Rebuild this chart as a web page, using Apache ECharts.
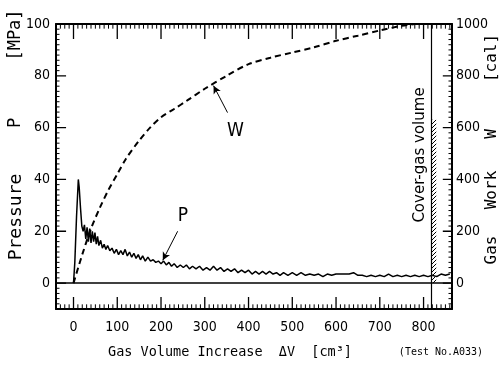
<!DOCTYPE html>
<html>
<head>
<meta charset="utf-8">
<script src="https://cdn.jsdelivr.net/npm/echarts@6/dist/echarts.min.js"></script>
<style>
  html, body { margin: 0; padding: 0; background: #fff; }
  #chart { width: 503px; height: 371px; }
</style>
</head>
<body>
<div id="chart"></div>
<script>
// gas volume increase [cm3] vs pressure P [MPa]
var pressure = [
  [0, 0], [3, 8], [7, 26], [11, 40], [13, 37], [16, 29], [19, 22], [22, 20],
  [25, 22.5], [28, 17], [31, 21.5], [34, 16], [37, 21], [40, 15.5], [43, 20],
  [46, 16], [49, 19.5], [52, 15], [55, 18], [58, 14.5], [62, 16.5], [66, 13.5],
  [70, 15], [74, 13], [78, 14.5], [83, 12.5], [88, 13.5], [93, 11.5], [98, 13],
  [103, 11], [108, 12.5], [113, 11], [118, 13], [123, 10.5], [128, 12], [133, 10],
  [138, 11.5], [143, 9.5], [148, 11], [153, 9], [158, 10.5], [164, 8.5], [170, 10],
  [176, 8.5], [182, 9], [188, 8], [194, 8.5], [200, 7.5], [206, 8.5], [212, 7],
  [218, 8], [224, 6.5], [230, 7.5], [237, 6], [244, 7], [251, 6], [258, 7],
  [265, 5.5], [272, 6.5], [280, 5.5], [288, 6.5], [296, 5], [304, 6], [312, 5],
  [320, 6.5], [328, 5], [336, 6], [344, 4.5], [352, 5.5], [360, 4.5], [368, 5.5],
  [376, 4], [384, 5], [392, 4], [400, 5], [408, 3.5], [416, 4.5], [424, 3.5],
  [432, 4.5], [440, 3.5], [448, 4.5], [456, 3.5], [464, 4], [472, 3], [480, 4],
  [490, 3], [500, 4], [510, 3], [520, 4], [530, 3], [540, 3.5], [550, 3],
  [560, 3.5], [570, 2.5], [580, 3.5], [590, 3], [600, 3.5], [610, 3.5], [620, 3.5],
  [630, 3.5], [640, 4], [650, 3], [660, 3], [670, 2.5], [680, 3], [690, 2.5],
  [700, 3], [710, 2.5], [720, 3.5], [730, 2.5], [740, 3], [750, 2.5], [760, 3],
  [770, 2.5], [780, 3], [790, 2.5], [800, 3], [810, 2.5], [820, 3], [830, 2.5],
  [840, 3.5], [850, 3], [860, 3.5]
];

// gas work W [cal]
var gasWork = [
  [0, 0], [20, 110], [40, 210], [60, 290], [80, 360], [100, 420], [120, 480],
  [150, 550], [175, 600], [200, 640], [230, 672], [260, 705], [300, 750],
  [350, 800], [400, 845], [450, 870], [500, 890], [550, 910], [600, 935],
  [650, 955], [700, 975], [750, 993], [780, 1000]
];

var coverGasVolume = 818;
var coverGasHatchTop = 63;

var xRange = [-40, 865];
var pRange = [-10, 100];
var wRange = [-100, 1000];

// frame ticks (right-hand W ticks coincide with these on the P scale)
var xMajorTicks = [0, 100, 200, 300, 400, 500, 600, 700, 800];
var pMajorTicks = [0, 20, 40, 60, 80, 100];
var xMinorStep = 10;
var pMinorStep = 2;

var tickFont = '"DejaVu Sans Condensed", "DejaVu Sans", sans-serif';
var monoFont = '"DejaVu Sans Mono", monospace';

// hatch pattern for the cover-gas strip
var hatch = document.createElement('canvas');
hatch.width = 4;
hatch.height = 4;
var hctx = hatch.getContext('2d');
hctx.strokeStyle = '#000';
hctx.lineWidth = 1;
hctx.beginPath();
hctx.moveTo(0, 4);
hctx.lineTo(4, 0);
hctx.stroke();

function plain(v) { return String(v); }

// inward frame ticks as broken polylines in axis units (null breaks the line)
function frameTicks(wantMajor) {
  var out = [];
  var v, major;
  function tick(a, b) { out.push(a, b, [b[0], null]); }
  for (v = Math.ceil(xRange[0] / xMinorStep) * xMinorStep + xMinorStep; v < xRange[1]; v += xMinorStep) {
    major = xMajorTicks.indexOf(v) >= 0;
    if (major !== wantMajor) continue;
    tick([v, pRange[0]], [v, pRange[0] + (major ? 4.6 : 1.8)]);
    tick([v, pRange[1]], [v, pRange[1] - (major ? 5.8 : 1.8)]);
  }
  for (v = Math.ceil(pRange[0] / pMinorStep) * pMinorStep + pMinorStep; v < pRange[1]; v += pMinorStep) {
    major = pMajorTicks.indexOf(v) >= 0;
    if (major !== wantMajor) continue;
    tick([xRange[0], v], [xRange[0] + (major ? 23 : 8), v]);
    tick([xRange[1], v], [xRange[1] - (major ? 21 : 8), v]);
  }
  return out;
}

function tickSeries(name, wantMajor, width) {
  return {
    name: name,
    type: 'line',
    xAxisIndex: 0,
    yAxisIndex: 0,
    data: frameTicks(wantMajor),
    showSymbol: false,
    symbol: 'none',
    connectNulls: false,
    clip: false,
    silent: true,
    z: 3,
    lineStyle: { color: '#000', width: width }
  };
}

function xAxisDef(pos, showLabel) {
  return {
    type: 'value', position: pos,
    min: xRange[0], max: xRange[1], splitNumber: 9,
    axisLine: { show: true, onZero: false, lineStyle: { color: '#000', width: 2 } },
    axisTick: { show: false },
    splitLine: { show: false },
    axisLabel: {
      show: showLabel, showMinLabel: false, showMaxLabel: false, formatter: plain,
      color: '#000', fontFamily: tickFont, fontSize: 14, margin: 11
    }
  };
}

function yAxisDef(pos, range, margin) {
  return {
    type: 'value', position: pos,
    min: range[0], max: range[1], splitNumber: 5,
    axisLine: { show: true, onZero: false, lineStyle: { color: '#000', width: 2 } },
    axisTick: { show: false },
    splitLine: { show: false },
    axisLabel: { showMinLabel: false, formatter: plain, color: '#000', fontFamily: tickFont, fontSize: 14, margin: margin }
  };
}

var chart = echarts.init(document.getElementById('chart'));
chart.setOption({
  animation: false,
  backgroundColor: '#fff',
  grid: { left: 56, right: 51, top: 24, bottom: 62 },
  xAxis: [xAxisDef('bottom', true), xAxisDef('top', false)],
  yAxis: [yAxisDef('left', pRange, 6), yAxisDef('right', wRange, 4)],
  series: [
    tickSeries('major ticks', true, 1.3),
    tickSeries('minor ticks', false, 1),
    {
      name: 'P',
      type: 'line',
      xAxisIndex: 0,
      yAxisIndex: 0,
      data: pressure,
      showSymbol: false,
      lineStyle: { color: '#000', width: 1.5 },
      markLine: {
        silent: true,
        symbol: 'none',
        label: { show: false },
        lineStyle: { color: '#000', type: 'solid', width: 1.5 },
        data: [
          { yAxis: 0 },
          { xAxis: coverGasVolume, lineStyle: { width: 1.2 } },
          [
            { coord: [238, 20], symbol: 'none', lineStyle: { width: 1 } },
            { coord: [204, 8.8], symbol: 'arrow', symbolSize: [6, 8] }
          ]
        ]
      },
      markArea: {
        silent: true,
        itemStyle: { color: { image: hatch, repeat: 'repeat' } },
        data: [[{ xAxis: coverGasVolume + 1, yAxis: 0 }, { xAxis: coverGasVolume + 11, yAxis: coverGasHatchTop }]]
      },
      markPoint: {
        silent: true,
        symbol: 'rect',
        symbolSize: 1,
        itemStyle: { color: 'rgba(0,0,0,0)' },
        label: { show: true, position: 'inside', color: '#000', fontFamily: tickFont, fontSize: 19 },
        data: [{ coord: [250, 25.8], value: 'P' }]
      }
    },
    {
      name: 'W',
      type: 'line',
      xAxisIndex: 0,
      yAxisIndex: 1,
      data: gasWork,
      showSymbol: false,
      smooth: 0.3,
      lineStyle: { color: '#000', width: 2, type: [6, 4] },
      markLine: {
        silent: true,
        symbol: 'none',
        label: { show: false },
        data: [
          [
            { coord: [352, 658], symbol: 'none' },
            { coord: [320, 762], symbol: 'arrow', symbolSize: [6, 8] }
          ]
        ],
        lineStyle: { color: '#000', type: 'solid', width: 1 }
      },
      markPoint: {
        silent: true,
        symbol: 'rect',
        symbolSize: 1,
        itemStyle: { color: 'rgba(0,0,0,0)' },
        label: { show: true, position: 'inside', color: '#000', fontFamily: tickFont, fontSize: 19 },
        data: [{ coord: [370, 588], value: 'W' }]
      }
    }
  ],
  graphic: [
    { type: 'text', x: 16, y: 35, rotation: Math.PI / 2, style: { text: '[MPa]', font: '17px ' + monoFont, fill: '#000', align: 'center', verticalAlign: 'middle' } },
    { type: 'text', x: 16, y: 123, rotation: Math.PI / 2, style: { text: 'P', font: '17px ' + monoFont, fill: '#000', align: 'center', verticalAlign: 'middle' } },
    { type: 'text', x: 16, y: 217, rotation: Math.PI / 2, style: { text: 'Pressure', font: '18px ' + monoFont, fill: '#000', align: 'center', verticalAlign: 'middle' } },
    { type: 'text', x: 492, y: 58, rotation: Math.PI / 2, style: { text: '[cal]', font: '16px ' + monoFont, fill: '#000', align: 'center', verticalAlign: 'middle' } },
    { type: 'text', x: 492, y: 134, rotation: Math.PI / 2, style: { text: 'W', font: '16px ' + monoFont, fill: '#000', align: 'center', verticalAlign: 'middle' } },
    { type: 'text', x: 492, y: 190, rotation: Math.PI / 2, style: { text: 'Work', font: '16px ' + monoFont, fill: '#000', align: 'center', verticalAlign: 'middle' } },
    { type: 'text', x: 492, y: 250, rotation: Math.PI / 2, style: { text: 'Gas', font: '16px ' + monoFont, fill: '#000', align: 'center', verticalAlign: 'middle' } },
    { type: 'text', x: 420, y: 155, rotation: Math.PI / 2, style: { text: 'Cover-gas volume', font: '15px "DejaVu Sans", sans-serif', fill: '#000', align: 'center', verticalAlign: 'middle' } },
    { type: 'text', x: 230, y: 352, style: { text: 'Gas Volume Increase  \u0394V  [cm\u00b3]', font: '13.5px ' + monoFont, fill: '#000', align: 'center', verticalAlign: 'middle' } },
    { type: 'text', x: 441, y: 352, style: { text: '(Test No.A033)', font: '10px ' + monoFont, fill: '#000', align: 'center', verticalAlign: 'middle' } }
  ]
});
</script>
</body>
</html>
